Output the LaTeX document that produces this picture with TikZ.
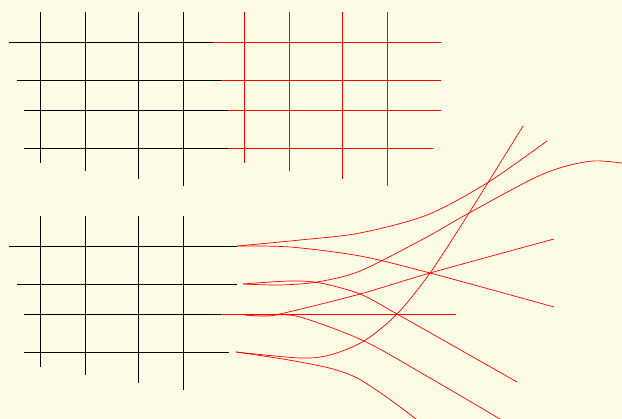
\documentclass[tikz,border=0pt]{standalone}
\usepackage{xcolor}
\usepackage{tikz}
\definecolor{paper}{RGB}{252,251,228}
\tikzset{
  gridline/.style={
    line width=0.7pt,
    draw=black
  },
  warpline/.style={
    line width=0.7pt,
    draw=red
  }
}

\begin{document}
\begin{tikzpicture}[x=1pt, y=-1pt]
\fill[paper] (0,0) rectangle (622,419);
\useasboundingbox (0,0) rectangle (622,419);
\clip (0,0) rectangle (622,419);

% Black grids (top and bottom)
\foreach \dy in {0,204} {
  \foreach \x/\ybot in {40/163, 85/171, 138/179, 183/186}
    \draw[gridline] (\x,12+\dy) -- (\x,\ybot+\dy);
  \foreach \y/\xa/\xb in {42/9/237, 80/17/237, 110/24/237, 148/24/229}
    \draw[gridline] (\xa,\y+\dy) -- (\xb,\y+\dy);
}

% Red grid (shifted copy)
\begin{scope}[xshift=204pt]
  \foreach \x/\ybot in {40/163, 85/171, 138/179, 183/186}
    \draw[warpline] (\x,12) -- (\x,\ybot);
  \foreach \y/\xa/\xb in {42/9/237, 80/17/237, 110/24/237, 148/24/229}
    \draw[warpline] (\xa,\y) -- (\xb,\y);
\end{scope}

% Red curves
\draw[warpline] plot[smooth] coordinates {(237,246) (300,240) (360,233) (427,215) (487,183) (547,141)};
\draw[warpline] plot[smooth] coordinates {(237,246) (290,247) (360,256) (430,273) (554,307)};
\draw[warpline] plot[smooth] coordinates {(243,284) (280,285) (317,282) (360,271) (425,238) (469,213) (543,174) (593,161) (640,166)};
\draw[warpline] plot[smooth] coordinates {(243,284) (290,281) (320,283) (360,294) (397,314) (517,382)};
\draw[warpline] plot[smooth] coordinates {(245,315) (262,316) (280,314) (360,294) (430,273) (554,239)};
\draw[warpline] (221,314) -- (456,314);
\draw[warpline] plot[smooth] coordinates {(245,315) (270,315) (300,317) (364,341) (430,378) (505,422)};
\draw[warpline] plot[smooth] coordinates {(236,352) (300,358) (330,355) (364,341) (397,314) (430,273) (469,213) (523,126)};
\draw[warpline] plot[smooth] coordinates {(236,352) (270,357) (300,362) (333,369) (357,378) (385,396) (420,422)};
\end{tikzpicture}
\end{document}
